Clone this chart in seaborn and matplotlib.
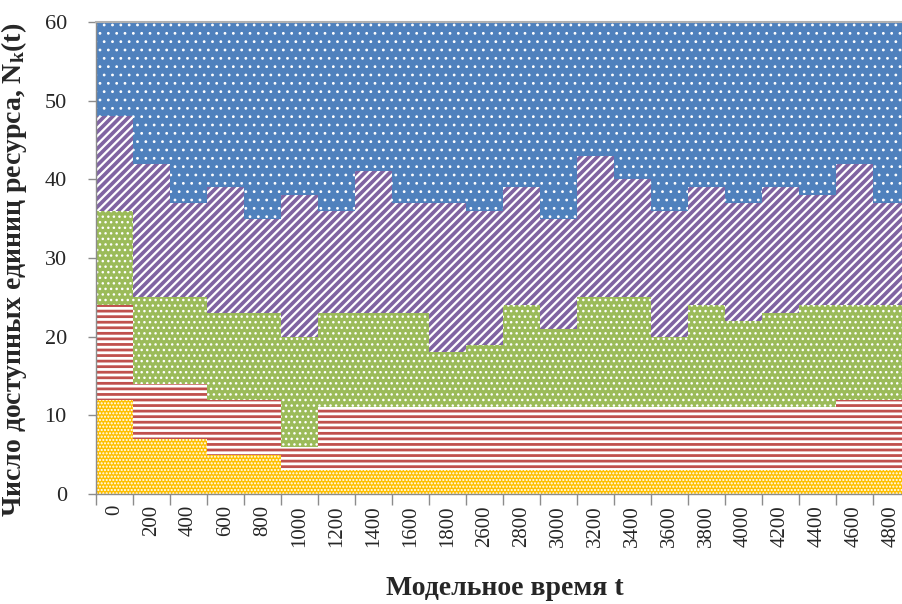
# stacked_resources.py

import numpy as np
import matplotlib
matplotlib.use("Agg")
import matplotlib.pyplot as plt
import seaborn as sns

# ============================================
# ДАННЫЕ
# ============================================
t_labels = ["0", "200", "400", "600", "800", "1000", "1200", "1400", "1600", "1800",
            "2600", "2800", "3000", "3200", "3400", "3600", "3800", "4000", "4200",
            "4400", "4600", "4800"]

# число доступных единиц по типам ресурса (высота каждого слоя)
res_1 = [12, 7, 7, 5, 5, 3, 3, 3, 3, 3, 3, 3, 3, 3, 3, 3, 3, 3, 3, 3, 3, 3]
res_2 = [12, 7, 7, 7, 7, 3, 8, 8, 8, 8, 8, 8, 8, 8, 8, 8, 8, 8, 8, 8, 9, 9]
res_3 = [12, 11, 11, 11, 11, 14, 12, 12, 12, 7, 8, 13, 10, 14, 14, 9, 13, 11, 12, 13, 12, 12]
res_4 = [12, 17, 12, 16, 12, 18, 13, 18, 14, 19, 17, 15, 14, 18, 15, 16, 15, 15, 16, 14, 18, 13]
res_5 = [12, 18, 23, 21, 25, 22, 24, 19, 23, 23, 24, 21, 25, 17, 20, 24, 21, 23, 21, 22, 18, 23]

# ============================================
# ОФОРМЛЕНИЕ
# ============================================
sns.set_style("white")
plt.rcParams['font.family'] = ['Liberation Serif', 'DejaVu Serif']
plt.rcParams['mathtext.fontset'] = 'custom'
plt.rcParams['mathtext.rm'] = 'Liberation Serif'
plt.rcParams['mathtext.it'] = 'Liberation Serif:italic'
plt.rcParams['mathtext.bf'] = 'Liberation Serif:bold'

# (значения, цвет, штриховка, толщина линий штриховки)
layers = [
    (res_1, '#FFC000', '.....', 1.0),
    (res_2, '#C0504D', '---', 2.0),
    (res_3, '#9BBB59', '...', 1.0),
    (res_4, '#8064A2', '////', 1.6),
    (res_5, '#4F81BD', '..', 0.8),
]

fig = plt.figure(figsize=(9.02, 6.04), dpi=100)
# правый край области графика обрезан, как на исходном рисунке
ax = fig.add_axes([96 / 902, 110 / 604, 814 / 902, 472 / 604])

cum = np.cumsum([np.array(v) for v, _, _, _ in layers], axis=0)

# рисуем от верхнего слоя к нижнему, чтобы получить накопление
for i in reversed(range(len(layers))):
    _, color, hatch, hlw = layers[i]
    plt.rcParams['hatch.linewidth'] = hlw
    sns.barplot(x=t_labels, y=cum[i], order=t_labels, color=color,
                saturation=1, width=1.0, errorbar=None, ax=ax)
    for p in ax.containers[-1]:
        p.set_hatch(hatch)
        p.set_edgecolor('white')
        p.set_linewidth(0)
        if hasattr(p, 'set_hatch_linewidth'):
            p.set_hatch_linewidth(hlw)

ax.set_ylim(0, 60)
ax.set_xlim(-0.5, len(t_labels) - 0.5)
ax.set_yticks(range(0, 61, 10))
ax.set_xticks(range(len(t_labels)))
ax.set_xticklabels(t_labels, rotation=90)
ax.set_xticks(np.arange(-0.5, len(t_labels), 1), minor=True)

ax.tick_params(axis='y', direction='out', length=6, width=1, color='#8c8c8c',
               labelsize=16, pad=15, left=True)
ax.tick_params(axis='x', which='major', length=0, labelsize=15, pad=8)
ax.tick_params(axis='x', which='minor', direction='out', length=8, width=1,
               color='#8c8c8c', bottom=True)

for side in ['left', 'bottom']:
    ax.spines[side].set_color('#8c8c8c')
    ax.spines[side].set_linewidth(1)
ax.spines['top'].set_color('#b0b0b0')
ax.spines['top'].set_linewidth(1.5)
ax.spines['right'].set_visible(False)

ax.set_xlabel('Модельное время t', fontsize=20, fontweight='bold')
ax.set_ylabel(r'Число доступных единиц ресурса, $\mathbf{N_k(t)}$',
              fontsize=20, fontweight='bold')
ax.xaxis.set_label_coords(0.5025, -0.174)
ax.yaxis.set_label_coords(-0.082, 0.474)

plt.savefig('out.png', dpi=100)
plt.close()
